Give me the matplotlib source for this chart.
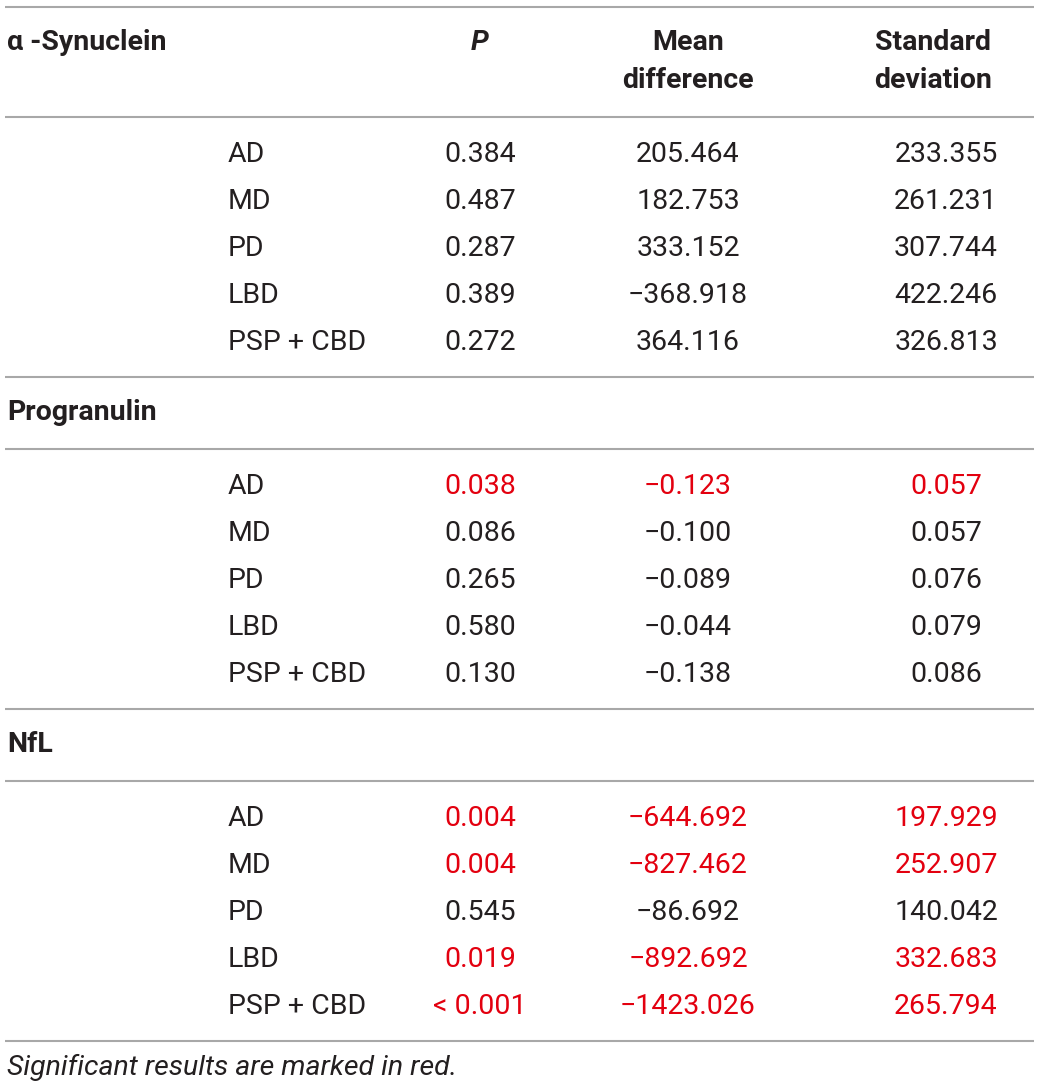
import matplotlib
matplotlib.use("Agg")
import matplotlib.pyplot as plt

# Donnees du tableau
sections = ["\u03b1 -Synuclein", "Progranulin", "NfL"]
groups = ["AD", "MD", "PD", "LBD", "PSP + CBD"]

p_values = [
    ["0.384", "0.487", "0.287", "0.389", "0.272"],
    ["0.038", "0.086", "0.265", "0.580", "0.130"],
    ["0.004", "0.004", "0.545", "0.019", "< 0.001"],
]
mean_diff = [
    ["205.464", "182.753", "333.152", "\u2212368.918", "364.116"],
    ["\u22120.123", "\u22120.100", "\u22120.089", "\u22120.044", "\u22120.138"],
    ["\u2212644.692", "\u2212827.462", "\u221286.692", "\u2212892.692", "\u22121423.026"],
]
std_dev = [
    ["233.355", "261.231", "307.744", "422.246", "326.813"],
    ["0.057", "0.057", "0.076", "0.079", "0.086"],
    ["197.929", "252.907", "140.042", "332.683", "265.794"],
]
significant = [
    [False, False, False, False, False],
    [True, False, False, False, False],
    [True, True, False, True, True],
]

# Mise en page (pixels)
W, H = 1039, 1089
FONT = "Roboto"
FS = 20.5
TXT = "#231f20"
RED = "#e3000f"
LINE = "#a8a8a8"

x_group = 228
x_p = 480
x_mean = 688
x_std = 946

fig = plt.figure(figsize=(W / 100, H / 100), dpi=100)
ax = fig.add_axes([0, 0, 1, 1])
ax.set_xlim(0, W)
ax.set_ylim(H, 0)
ax.axis("off")

def hline(y):
    ax.plot([5, W - 5], [y, y], color=LINE, lw=1.5, solid_capstyle="butt")

def txt(x, y, s, ha="center", color=TXT, weight="normal", style="normal", size=FS):
    ax.text(x, y, s, ha=ha, va="center", color=color, fontsize=size,
            family=[FONT, "DejaVu Sans"], fontweight=weight, fontstyle=style)

# En-tete
hline(7)
txt(7, 43, sections[0], ha="left", weight="bold")
txt(x_p, 43, "P", weight="bold", style="italic")
txt(x_mean, 43, "Mean", weight="bold")
txt(x_mean, 80, "difference", weight="bold")
txt(933, 43, "Standard", weight="bold")
txt(933, 80, "deviation", weight="bold")
hline(117)

row_h = 47.25
y = 117
for k in range(len(sections)):
    if k > 0:
        txt(7, y + 36, sections[k], ha="left", weight="bold")
        y += 72
        hline(y)
    for i, g in enumerate(groups):
        yc = y + 37 + i * row_h
        c = RED if significant[k][i] else TXT
        txt(x_group, yc, g, ha="left")
        txt(x_p, yc, p_values[k][i], color=c)
        txt(x_mean, yc, mean_diff[k][i], color=c)
        txt(x_std, yc, std_dev[k][i], color=c)
    y += 260
    hline(y)

txt(7, 1067, "Significant results are marked in red.", ha="left", style="italic", size=20.5)

fig.savefig("out.png", dpi=100)
